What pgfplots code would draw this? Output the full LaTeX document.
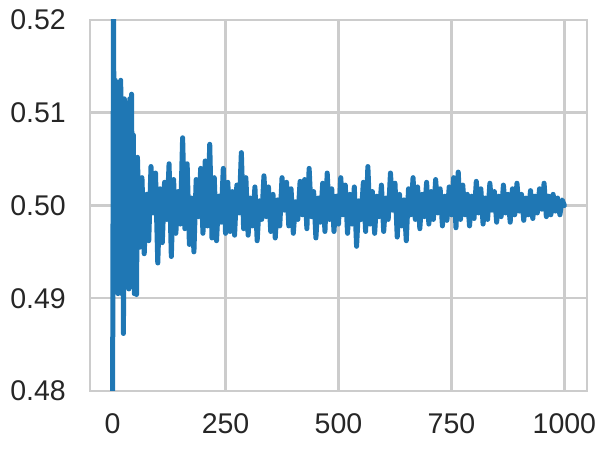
\documentclass[border=0pt]{standalone}
\usepackage{pgfplots}
\pgfplotsset{compat=1.18}
\usepackage{fontspec}
\setmainfont{Liberation Sans}
\definecolor{sbblue}{RGB}{31,119,180}
\definecolor{sbgrid}{RGB}{204,204,204}
\definecolor{sbtext}{RGB}{38,38,38}
\begin{document}
\begin{tikzpicture}[x=1pt,y=1pt]
\begin{axis}[
    name=ax,
    scale only axis,
    width=497pt, height=371pt,
    xmin=-50, xmax=1050,
    ymin=0.48, ymax=0.52,
    xtick={0,250,500,750,1000},
    ytick={0.48,0.49,0.50,0.51,0.52},
    yticklabels={0.48,0.49,0.50,0.51,0.52},
    grid=major,
    major grid style={draw=sbgrid, line width=2.5pt},
    axis line style={draw=sbgrid, line width=2.5pt},
    major tick length=0pt,
    tick style={draw=none},
    /pgf/number format/assume math mode=true,
    /pgf/number format/1000 sep={},
    ticklabel style={font=\fontsize{28.5}{30}\selectfont, text=sbtext, inner sep=0pt},
    yticklabel style={xshift=-24pt},
    xticklabel style={yshift=-22pt},
    clip=true,
]
\addplot[sbblue, line width=5pt, line join=round, line cap=round] coordinates {
(0,0.478) (2,0.522) (4,0.4955) (6,0.5135) (8,0.4915) (10,0.5125) (12,0.4905)
(14,0.5095) (16,0.4935) (18,0.5135) (20,0.4905) (22,0.5105) (24,0.4862)
(26,0.5115) (28,0.4935) (30,0.5065) (32,0.4915) (34,0.5080) (36,0.4910)
(38,0.5115) (40,0.4940) (42,0.5120) (44,0.4925) (46,0.5076) (48,0.4905)
(50,0.4945) (53,0.4904) (55,0.5052) (60,0.4955) (65,0.5030) (70,0.4948)
(75,0.5012) (80,0.4962) (85,0.5042) (90,0.4992) (95,0.5035) (100,0.4938)
(105,0.5018) (110,0.4960) (115,0.5025) (120,0.4985) (125,0.5045) (130,0.4945)
(135,0.5028) (140,0.4970) (145,0.5015) (150,0.4980) (155,0.5073) (160,0.4975)
(165,0.5045) (170,0.4958) (175,0.5008) (180,0.4950) (185,0.5028) (190,0.4988)
(195,0.5040) (200,0.4970) (205,0.5048) (210,0.4978) (215,0.5066) (220,0.4965)
(225,0.5030) (230,0.4962) (235,0.5010) (240,0.4982) (245,0.5040) (250,0.4970)
(255,0.5025) (260,0.4972) (265,0.5015) (270,0.4968) (275,0.5022) (280,0.4992)
(285,0.5057) (290,0.4975) (295,0.5030) (300,0.4968) (305,0.5008) (310,0.4978)
(315,0.5020) (320,0.4962) (325,0.5005) (330,0.4985) (335,0.5032) (340,0.4988)
(345,0.5020) (350,0.4972) (355,0.5012) (360,0.4965) (365,0.5006) (370,0.4978)
(375,0.5030) (380,0.4995) (385,0.5025) (390,0.4978) (395,0.5018) (400,0.4970)
(405,0.5004) (410,0.4985) (415,0.5026) (420,0.4990) (425,0.5028) (430,0.4975)
(435,0.5040) (440,0.4988) (445,0.5015) (450,0.4965) (455,0.5008) (460,0.4982)
(465,0.5024) (470,0.4972) (475,0.5035) (480,0.4985) (485,0.5018) (490,0.4972)
(495,0.5010) (500,0.4980) (505,0.5030) (510,0.4990) (515,0.5022) (520,0.4970)
(525,0.5012) (530,0.4980) (535,0.5020) (540,0.4956) (545,0.5005) (550,0.4985)
(555,0.5025) (560,0.4972) (565,0.5042) (570,0.4980) (575,0.5015) (580,0.4970)
(585,0.5010) (590,0.4988) (595,0.5022) (600,0.4972) (605,0.5008) (610,0.4985)
(615,0.5035) (620,0.4995) (625,0.5024) (630,0.4966) (635,0.5012) (640,0.4978)
(645,0.5006) (650,0.4962) (655,0.5018) (660,0.4990) (665,0.5030) (670,0.4985)
(675,0.5020) (680,0.4975) (685,0.5012) (690,0.4988) (695,0.5025) (700,0.4980)
(705,0.5015) (710,0.4985) (715,0.5028) (720,0.4992) (725,0.5018) (730,0.4978)
(735,0.5010) (740,0.4984) (745,0.5020) (750,0.4990) (755,0.5030) (760,0.4976)
(765,0.5036) (770,0.4985) (775,0.5022) (780,0.4990) (785,0.5012) (790,0.4978)
(795,0.5010) (800,0.4986) (805,0.5026) (810,0.4992) (815,0.5018) (820,0.4980)
(825,0.5008) (830,0.4985) (835,0.5024) (840,0.4995) (845,0.5015) (850,0.4982)
(855,0.5010) (860,0.4988) (865,0.5022) (870,0.4992) (875,0.5012) (880,0.4982)
(885,0.5018) (890,0.4990) (895,0.5024) (900,0.4994) (905,0.5012) (910,0.4984)
(915,0.5008) (920,0.4990) (925,0.5016) (930,0.4986) (935,0.5010) (940,0.4992)
(945,0.5018) (950,0.4996) (955,0.5024) (960,0.4988) (965,0.5010) (970,0.4990)
(975,0.5012) (980,0.4994) (985,0.5008) (990,0.4990) (995,0.5006) (1000,0.5000)
};
\end{axis}
\pgfresetboundingbox
\path ([xshift=-90pt,yshift=-60pt]ax.south west) rectangle ([xshift=21pt,yshift=20pt]ax.north east);
\end{tikzpicture}
\end{document}
